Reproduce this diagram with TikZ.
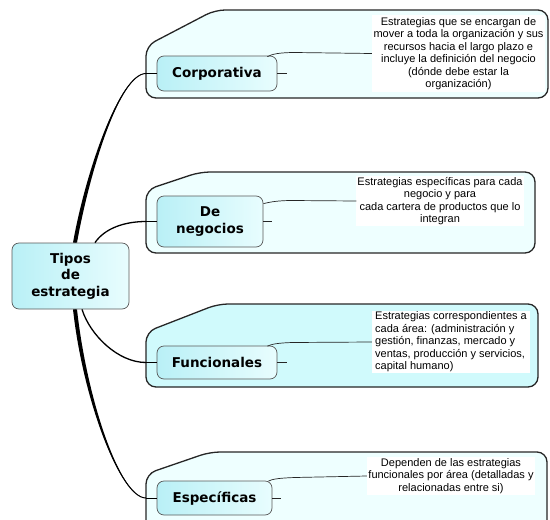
\documentclass[tikz,border=0pt]{standalone}
\usepackage{fontspec}
\newfontfamily\notefont{Liberation Sans}
\newfontfamily\nodefont{DejaVu Sans}
\definecolor{grpA}{RGB}{238,255,255}
\definecolor{grpB}{RGB}{208,250,252}
\definecolor{nodeL}{RGB}{185,240,246}
\definecolor{nodeR}{RGB}{232,253,254}
% #1 top, #2 bottom, #3 right, #4 fill, #5 x where top edge starts, #6 depth of slant
\newcommand\grpshape[6]{%
  \draw[grp,fill=#4] (146,#2) -- (#3,#2) -- (#3,#1) -- (#5,#1) -- (146,#1+#6) -- cycle;}
\begin{document}
\begin{tikzpicture}[x=1pt,y=-1pt,
  grp/.style={draw=black!85, line width=1.3pt, line join=round, rounded corners=10pt},
  sub/.style={draw=black!65, line width=0.7pt, rounded corners=7pt, left color=nodeL, right color=nodeR,
    font=\nodefont\bfseries\fontsize{13.5}{16.5}\selectfont, align=center, inner sep=0pt},
  note/.style={fill=white, font=\notefont\fontsize{11}{12.5}\selectfont, inner sep=1pt},
  link/.style={line width=0.7pt, black!85},
  stub/.style={line width=0.8pt, black!85},
]
\useasboundingbox (0,0) rectangle (550,520);

% group backgrounds
\grpshape{10}{98}{548}{grpA}{215}{36}
\grpshape{172}{253}{535}{grpA}{200}{18}
\grpshape{304}{387}{538}{grpB}{218}{28}
\grpshape{452}{532}{547}{grpA}{210}{22}

% nodes
\node[sub, minimum width=117, minimum height=66] (root) at (70.5,276) {Tipos\\de\\estrategia};
\node[sub, minimum width=120, minimum height=35] (corp) at (217,73.5) {Corporativa};
\node[sub, minimum width=106, minimum height=51] (neg) at (210,221.5) {De\\negocios};
\node[sub, minimum width=120, minimum height=33] (func) at (217,362.5) {Funcionales};
\node[sub, minimum width=115, minimum height=34] (esp) at (214.5,498) {Específicas};

% notes
\node[note, minimum width=173, minimum height=77, align=center] (ncorp) at (458.5,53.5)
  {Estrategias que se encargan de\\mover a toda la organización y sus\\recursos hacia el largo plazo e\\incluye la definición del negocio\\(dónde debe estar la\\organización)};
\node[note, minimum width=166, minimum height=50, align=center] (nneg) at (440,201)
  {Estrategias específicas para cada\\negocio y para\\cada cartera de productos que lo\\integran};
\node[note, minimum width=158, minimum height=58, align=left] (nfunc) at (451,342)
  {Estrategias correspondientes a\\cada área: (administración y\\gestión, finanzas, mercado y\\ventas, producción y servicios,\\capital humano)};
\node[note, minimum width=168, minimum height=38, align=center] (nesp) at (451,476)
  {Dependen de las estrategias\\funcionales por área (detalladas y\\relacionadas entre si)};

% branch junctions at group edges
\coordinate (g1) at (146,73.5);
\coordinate (g2) at (146,221.5);
\coordinate (g3) at (146,362.5);
\coordinate (g4) at (146,498);

% main branches
\fill ([xshift=2.5pt]root.north) .. controls (86,170) and (120,73) .. (g1)
  .. controls (120,74.2) and (90,170) .. ([xshift=6.5pt]root.north) -- cycle;
\draw[line width=1pt] ([xshift=4.5pt]root.north) .. controls (88,170) and (120,73.5) .. (g1);
\draw[line width=1.3pt] ([xshift=24.5pt]root.north) .. controls (105,228) and (125,221.5) .. (g2);
\draw[line width=1.3pt] ([xshift=11.5pt]root.south) .. controls (90,335) and (118,362.5) .. (g3);
\fill ([xshift=2.5pt]root.south) .. controls (83,400) and (120,498) .. (g4)
  .. controls (120,497) and (87,400) .. ([xshift=6.5pt]root.south) -- cycle;
\draw[line width=1pt] ([xshift=4.5pt]root.south) .. controls (85,400) and (120,498) .. (g4);
\draw[line width=1pt] (g1) -- (corp.west);
\draw[line width=1pt] (g2) -- (neg.west);
\draw[line width=1pt] (g3) -- (func.west);
\draw[line width=1pt] (g4) -- (esp.west);

% stubs
\coordinate (s1) at ([xshift=10pt]corp.east);
\coordinate (s2) at ([xshift=9pt]neg.east);
\coordinate (s3) at ([xshift=10pt]func.east);
\coordinate (s4) at ([xshift=9pt]esp.east);
\draw[stub] (corp.east) -- (s1);
\draw[stub] (neg.east) -- (s2);
\draw[stub] (func.east) -- (s3);
\draw[stub] (esp.east) -- (s4);

% links to notes
\draw[link] ([xshift=-10pt,yshift=-1pt]corp.north east) .. controls (272,54) and (280,52.5) .. (295,52.5) -- (ncorp.west);
\draw[link] ([yshift=-8pt]neg.north east) .. controls (270,202) and (278,200.5) .. (292,200.5) -- (nneg.west);
\draw[link] ([xshift=-10pt,yshift=-0.5pt]func.north east) .. controls (272,344) and (278,343) .. (292,342.5) -- (nfunc.west);
\draw[link] ([xshift=-4pt,yshift=-0.5pt]esp.north east) .. controls (272,479) and (280,478) .. (295,477.5) -- (nesp.west);
\end{tikzpicture}
\end{document}
